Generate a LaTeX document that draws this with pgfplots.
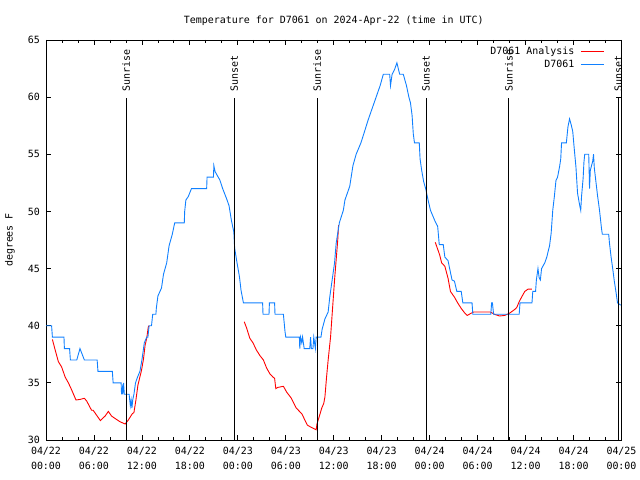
\documentclass[border=0pt]{standalone}
\usepackage{pgfplots}
\pgfplotsset{compat=1.18}
\usepackage{fontspec}
\setmainfont{DejaVu Sans Mono}
\definecolor{obsblue}{RGB}{16,128,255}
\begin{document}
\begin{tikzpicture}[font=\fontsize{10}{13}\selectfont]
\useasboundingbox (0,0) rectangle (640bp,480bp);
\begin{axis}[
 at={(46bp,40bp)}, anchor=south west,
 scale only axis, width=575.5bp, height=400bp,
 xmin=0, xmax=72, ymin=30, ymax=65,
 clip=false,
 unbounded coords=jump,
 xtick={0,6,...,72}, minor x tick num=2,
 xticklabels={{04/22\\00:00},{04/22\\06:00},{04/22\\12:00},{04/22\\18:00},{04/23\\00:00},{04/23\\06:00},{04/23\\12:00},{04/23\\18:00},{04/24\\00:00},{04/24\\06:00},{04/24\\12:00},{04/24\\18:00},{04/25\\00:00}},
 xticklabel style={align=center, font=\fontsize{10}{15}\selectfont, yshift=-4bp},
 ytick={30,35,...,65},
 yticklabel style={xshift=-2.5bp},
 /pgf/number format/assume math mode=true,
 tick align=inside,
 major tick length=5bp, minor tick length=3bp,
 tick style={black, line width=0.8bp},
 axis line style={black, line width=0.9bp},
 title={Temperature for D7061 on 2024-Apr-22 (time in UTC)},
 title style={at={(0.5,1)}, anchor=base, yshift=11bp},
 ylabel={degrees F},
 ylabel style={at={(axis description cs:-0.0626,0.5)}, anchor=center},
 legend style={at={(1,1)}, anchor=north east, draw=none, fill=none, xshift=-14bp, yshift=-3bp, row sep=0bp, legend cell align=right},
 legend plot pos=right,
 legend image code/.code={\path (-4bp,0bp); \draw[#1] plot coordinates {(0bp,0bp) (11.5bp,0bp) (23bp,0bp)};},
]
\addplot[color=red, line width=0.9bp] coordinates {
(0.8,38.8)(1.1,38)(1.55,36.85)(1.95,36.4)(2.4,35.5)(2.8,35)(3.2,34.4)(3.75,33.5)(4.25,33.55)(4.8,33.65)(5.1,33.4)(5.7,32.6)(5.9,32.6)(6.3,32.2)(6.8,31.7)(7.4,32.1)(7.8,32.5)(8.2,32.1)(8.6,31.9)(9.25,31.6)(9.9,31.4)(10.3,31.75)(10.8,32.3)(11.0,32.4)(11.25,33.5)(11.5,34.8)(11.95,36.1)(12.2,37.1)(12.4,38.3)(12.6,38.9)(12.8,39.9)(12.9,40)
(18,nan)
(24.8,40.35)(25.1,39.8)(25.5,38.9)(25.9,38.5)(26.3,37.9)(26.75,37.4)(27.2,37.0)(27.6,36.3)(28.0,35.8)(28.4,35.5)(28.6,35.4)(28.75,34.5)(29.0,34.6)(29.7,34.7)(30.1,34.2)(30.7,33.65)(31.3,32.8)(32.0,32.3)(32.7,31.3)(33.2,31.1)(33.8,30.9)(33.9,31.4)(34.25,32.2)(34.5,32.8)(34.75,33.2)(34.9,33.8)(35.1,35.5)(35.3,37)(35.6,39)(35.9,42)(36.1,44)(36.3,45.75)(36.5,47.5)(36.6,48.8)
(42,nan)
(48.7,47.3)(48.9,46.9)(49.25,46.2)(49.5,45.5)(49.9,45.2)(50.3,44.15)(50.6,43)(51.1,42.5)(51.5,42)(51.96,41.5)(52.4,41.1)(52.7,40.9)(53.2,41.1)(53.5,41.2)(55.6,41.2)(56.1,41.0)(56.75,40.85)(57.4,40.9)(58.0,41.1)(58.6,41.4)(58.9,41.6)(59.2,42.1)(59.5,42.5)(59.9,43)(60.3,43.2)(60.8,43.2)
};
\addlegendentry{D7061 Analysis}
\addplot[color=obsblue, line width=0.9bp] coordinates {
(0.0,40)(0.7,40)(0.8,39)(2.25,39)(2.3,38)(2.95,38)(3.05,37)(3.85,37)(4.25,38)(4.8,37)(6.4,37)(6.5,36)(8.3,36)(8.4,35)(9.4,35)(9.45,34)(9.55,34.5)(9.6,34)(9.7,35)(9.8,34)(10.4,34)(10.55,33)(10.65,33.5)(10.75,32.8)(10.85,33.5)(11.0,34)(11.2,35)(11.45,35.5)(11.75,36)(12.0,37)(12.3,38.5)(12.6,39)(12.75,39)(12.9,40)(13.2,40)(13.35,41)(13.75,41)(13.8,41.5)(14.0,42.6)(14.45,43.3)(14.7,44.5)(15.1,45.5)(15.4,47)(15.8,48)(16.1,49)(17.3,49)(17.35,50)(17.5,51)(17.8,51.3)(18.2,52)(20.1,52)(20.15,53)(20.95,53)(21.0,54)(21.15,53.5)(21.3,53.3)(21.75,52.75)(22.1,52)(22.6,51.1)(22.9,50.5)(23.2,49.2)(23.5,48.2)(23.6,46.8)(23.9,45.5)(24.2,44.3)(24.4,43.1)(24.7,42)(27.1,42)(27.15,41)(27.9,41)(27.95,42)(28.6,42)(28.65,41)(29.7,41)(29.9,39.5)(30.0,39)(31.7,39)(31.75,38)(31.85,39)(32.0,38.5)(32.1,39)(32.3,38)(33.0,38)(33.1,39)(33.2,38)(33.4,38)(33.5,39)(33.7,38)(33.8,39)(34.4,39)(34.55,39.7)(34.9,40.6)(35.3,41.2)(35.5,42.5)(35.8,44)(36.1,45.5)(36.3,47.2)(36.7,49)(37.2,50.1)(37.4,51)(38.0,52.2)(38.4,54)(38.8,55)(39.4,56)(39.9,57.1)(40.3,58)(40.8,59)(41.3,60)(41.8,61)(42.2,62)(43.0,62)(43.1,61)(43.3,62)(43.6,62.4)(43.9,63)(44.25,62)(44.7,62)(45.1,61)(45.4,60)(45.6,59.5)(45.8,58.4)(45.95,56.8)(46.1,56)(46.7,56)(46.8,54.6)(47.0,53.6)(47.25,52.6)(47.5,52)(47.8,51)(48.1,50.1)(48.4,49.6)(48.7,49.1)(49.0,48.7)(49.2,47.1)(49.7,47.1)(49.9,46)(50.3,45.7)(50.5,45)(50.8,44)(51.1,43.9)(51.4,43)(51.95,43)(52.15,42)(53.3,42)(53.4,41)(55.65,41)(55.75,42)(55.85,42)(56.0,41)(59.2,41)(59.3,42)(60.8,42)(60.9,43)(61.25,43)(61.35,44)(61.55,45)(61.7,44.2)(61.85,44)(62.0,45)(62.4,45.5)(62.65,46)(63.0,47)(63.2,48.1)(63.4,50.1)(63.6,51.3)(63.8,52.7)(64.0,53)(64.25,53.9)(64.4,54.6)(64.5,56)(65.1,56)(65.3,57.4)(65.5,58.1)(65.7,57.6)(65.9,57)(66.1,55.4)(66.3,53.9)(66.5,51.6)(66.75,50.6)(66.9,50.1)(67.0,51.3)(67.2,52.9)(67.3,54.3)(67.4,55)(67.9,55)(67.95,53.6)(68.0,52)(68.1,53.6)(68.4,54.4)(68.5,55)(68.6,53.8)(68.8,52.6)(69.0,51.4)(69.25,50.1)(69.5,48.5)(69.6,48)(70.4,48)(70.5,47.2)(70.7,46)(70.9,45)(71.1,43.9)(71.3,43)(71.5,42)(71.9,41.8)
};
\addlegendentry{D7061}
% sunrise / sunset markers
\addplot[black, line width=0.9bp, forget plot] coordinates {(10.04,30)(10.04,59.9)};
\addplot[black, line width=0.9bp, forget plot] coordinates {(23.55,30)(23.55,59.9)};
\addplot[black, line width=0.9bp, forget plot] coordinates {(33.92,30)(33.92,59.9)};
\addplot[black, line width=0.9bp, forget plot] coordinates {(47.55,30)(47.55,59.9)};
\addplot[black, line width=0.9bp, forget plot] coordinates {(57.9,30)(57.9,59.9)};
\addplot[black, line width=0.9bp, forget plot] coordinates {(71.58,30)(71.58,59.9)};
\node[rotate=90, anchor=west, inner sep=0pt, xshift=1bp] at (axis cs:10.04,60.36) {Sunrise};
\node[rotate=90, anchor=west, inner sep=0pt, xshift=1bp] at (axis cs:23.55,60.36) {Sunset};
\node[rotate=90, anchor=west, inner sep=0pt, xshift=1bp] at (axis cs:33.92,60.36) {Sunrise};
\node[rotate=90, anchor=west, inner sep=0pt, xshift=1bp] at (axis cs:47.55,60.36) {Sunset};
\node[rotate=90, anchor=west, inner sep=0pt, xshift=1bp] at (axis cs:57.9,60.36) {Sunrise};
\node[rotate=90, anchor=west, inner sep=0pt, xshift=1bp] at (axis cs:71.58,60.36) {Sunset};
\end{axis}
\end{tikzpicture}
\end{document}
